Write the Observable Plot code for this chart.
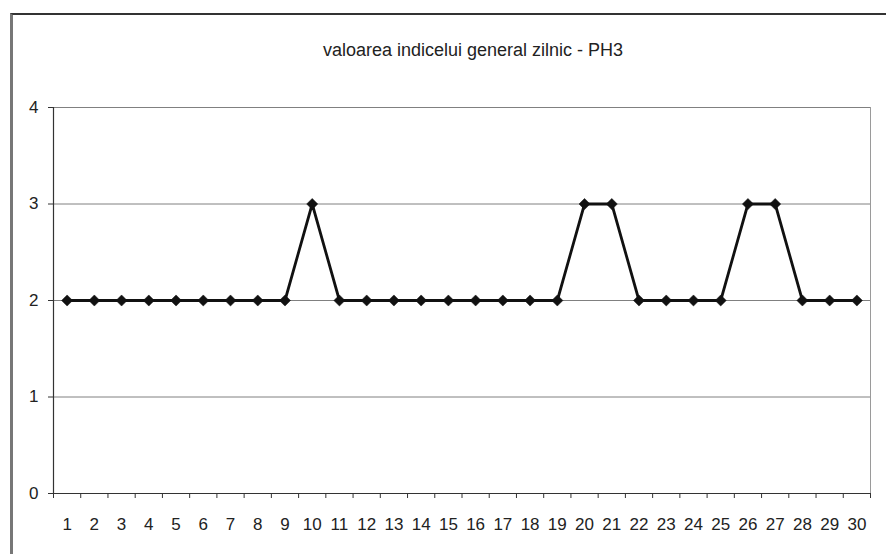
<!DOCTYPE html>
<html>
<head>
<meta charset="utf-8">
<script src="https://cdn.jsdelivr.net/npm/d3@7"></script>
<script src="https://cdn.jsdelivr.net/npm/@observablehq/plot@0.6"></script>
<style>
  html, body { margin: 0; padding: 0; background: #fff; }
  #wrap { position: relative; width: 886px; height: 554px; overflow: hidden; }
  #frame { position: absolute; left: 10px; top: 13px; width: 900px; height: 600px;
           border-left: 3px solid #777; border-top: 2px solid #333; box-sizing: border-box; }
  #chart { position: absolute; left: 0; top: 0; }
  #chart svg text { font-family: "Liberation Sans", Arial, sans-serif; fill: #222; }
</style>
</head>
<body>
<div id="wrap"><div id="frame"></div><div id="chart"></div></div>
<script>
const title = "valoarea indicelui general zilnic - PH3";
const days = [1, 2, 3, 4, 5, 6, 7, 8, 9, 10, 11, 12, 13, 14, 15, 16, 17, 18, 19, 20, 21, 22, 23, 24, 25, 26, 27, 28, 29, 30];
const values = [2, 2, 2, 2, 2, 2, 2, 2, 2, 3, 2, 2, 2, 2, 2, 2, 2, 2, 2, 3, 3, 2, 2, 2, 2, 3, 3, 2, 2, 2];
const yTicks = [0, 1, 2, 3, 4];
const xDomain = [0.5, 30.5];
const yDomain = [0, 4];

const data = days.map((d, i) => ({day: d, value: values[i]}));
const boundaries = d3.range(xDomain[0], xDomain[1] + 0.01, 1);

const chart = Plot.plot({
  width: 886,
  height: 554,
  marginLeft: 53,
  marginRight: 16,
  marginTop: 107,
  marginBottom: 61,
  style: {background: "transparent", overflow: "visible"},
  x: {domain: xDomain, label: null},
  y: {domain: yDomain, label: null},
  marks: [
    Plot.gridY(yTicks.filter(t => t > 0), {stroke: "#808080", strokeOpacity: 1, strokeWidth: 1}),
    Plot.ruleX([xDomain[1]], {stroke: "#9a9a9a", strokeWidth: 1}),
    Plot.ruleX([xDomain[0]], {stroke: "#333", strokeWidth: 1.2}),
    Plot.ruleY([yDomain[0]], {stroke: "#333", strokeWidth: 1.2}),
    Plot.axisY(yTicks, {tickSize: 5, tickPadding: 10, fontSize: 17, stroke: "#333", label: null, tickFormat: d => String(d)}),
    Plot.axisX(boundaries, {tickSize: 5, stroke: "#333", label: null, tickFormat: () => ""}),
    Plot.axisX(days, {tickSize: 0, tickPadding: 24, fontSize: 17, label: null, tickFormat: d => String(d)}),
    Plot.line(data, {x: "day", y: "value", stroke: "#111", strokeWidth: 2.8}),
    Plot.dot(data, {x: "day", y: "value", symbol: "diamond2", r: 5, fill: "#111", stroke: "#111", strokeWidth: 0.5}),
    Plot.text([title], {frameAnchor: "top", dy: -64, dx: 11, fontSize: 18, fill: "#222"})
  ]
});
document.getElementById("chart").appendChild(chart);
</script>
</body>
</html>
